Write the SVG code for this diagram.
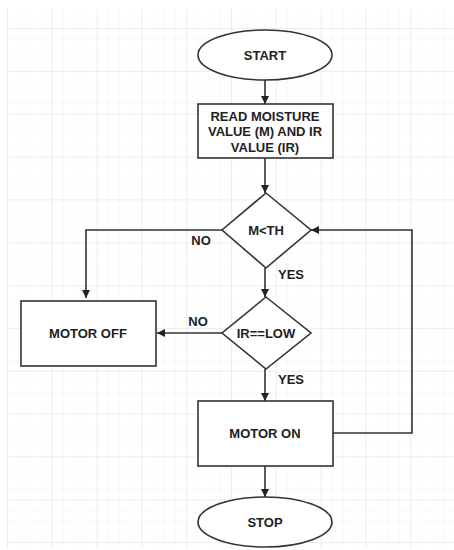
<svg xmlns="http://www.w3.org/2000/svg" width="454" height="550" viewBox="0 0 454 550">
  <defs>
    <pattern id="minor" patternUnits="userSpaceOnUse" x="7" y="28" width="11.2" height="10.71">
      <path d="M0 0V10.71M0 0H11.2" fill="none" stroke="#f3f3f3" stroke-width="1"/>
    </pattern>
    <pattern id="major" patternUnits="userSpaceOnUse" x="7" y="28" width="44.8" height="42.85">
      <path d="M0 0V42.85M0 0H44.8" fill="none" stroke="#e4e4e4" stroke-width="1"/>
    </pattern>
    <marker id="arrow" viewBox="0 0 10 10" refX="10" refY="5" markerWidth="8" markerHeight="8" markerUnits="userSpaceOnUse" orient="auto">
      <path d="M0 0L10 5L0 10Z" fill="#222"/>
    </marker>
    <style>
      .shape { fill: #ffffff; stroke: #333333; stroke-width: 1.6; }
      .conn { fill: none; stroke: #333333; stroke-width: 1.6; }
      .t { font-family: "Liberation Sans", Arial, sans-serif; font-weight: bold; font-size: 13px; fill: #222222; text-anchor: middle; }
    </style>
  </defs>
  <rect width="454" height="550" fill="#ffffff"/>
  <rect x="7" y="9" width="447" height="539" fill="url(#minor)"/>
  <rect x="7" y="9" width="447" height="539" fill="url(#major)"/>

  <g id="connectors">
    <path class="conn" d="M265 80V104" marker-end="url(#arrow)"/>
    <path class="conn" d="M265 158V193" marker-end="url(#arrow)"/>
    <path class="conn" d="M222 230H86V298" marker-end="url(#arrow)"/>
    <path class="conn" d="M265 268V297" marker-end="url(#arrow)"/>
    <path class="conn" d="M222 333H157" marker-end="url(#arrow)"/>
    <path class="conn" d="M265 369V401" marker-end="url(#arrow)"/>
    <path class="conn" d="M333 433H412V230H311" marker-end="url(#arrow)"/>
    <path class="conn" d="M265 466V497" marker-end="url(#arrow)"/>
    <text class="t" x="201" y="245">NO</text>
    <text class="t" x="291" y="279">YES</text>
    <text class="t" x="198" y="326">NO</text>
    <text class="t" x="291" y="384">YES</text>
  </g>

  <g id="start">
    <ellipse class="shape" cx="265" cy="55" rx="67" ry="25"/>
    <text class="t" x="265" y="59.5">START</text>
  </g>
  <g id="read">
    <rect class="shape" x="198" y="104" width="135" height="54"/>
    <text class="t" x="265" y="121">READ MOISTURE</text>
    <text class="t" x="265" y="136">VALUE (M) AND IR</text>
    <text class="t" x="265" y="152">VALUE (IR)</text>
  </g>
  <g id="check-m">
    <polygon class="shape" points="266,193 311,230 266,268 222,230"/>
    <text class="t" x="266" y="234.5">M&lt;TH</text>
  </g>
  <g id="check-ir">
    <polygon class="shape" points="266,297 311,333 266,369 222,333"/>
    <text class="t" x="266" y="337.5">IR==LOW</text>
  </g>
  <g id="motor-off">
    <rect class="shape" x="21" y="301" width="135" height="65"/>
    <text class="t" x="88" y="337.5">MOTOR OFF</text>
  </g>
  <g id="motor-on">
    <rect class="shape" x="198" y="401" width="135" height="65"/>
    <text class="t" x="265" y="437.5">MOTOR ON</text>
  </g>
  <g id="stop">
    <ellipse class="shape" cx="265" cy="522" rx="67" ry="25"/>
    <text class="t" x="265" y="526.5">STOP</text>
  </g>
</svg>
